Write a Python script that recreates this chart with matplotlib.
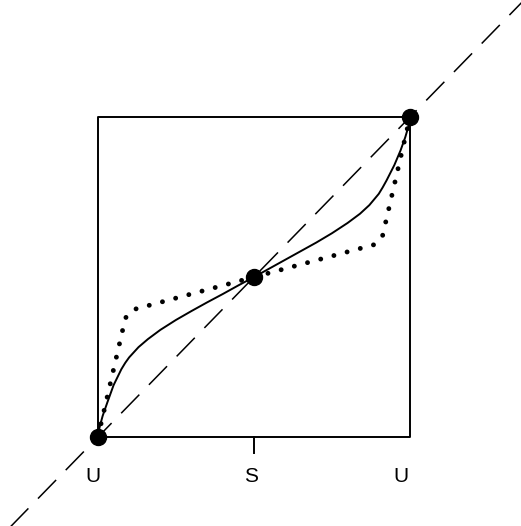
import matplotlib.pyplot as plt

# fixed points (U, S, U) on the diagonal
fixed_x = [0.0, 0.5, 1.0]
fixed_y = [0.0, 0.5, 1.0]

# diagonal y = x (dashed)
diag_x = [-0.35, 1.40]
diag_y = [-0.35, 1.40]

# smooth solid curve
solid_x = [0.0, 0.005, 0.015, 0.03, 0.05, 0.075, 0.0875, 0.10, 0.13, 0.16, 0.20, 0.25,
           0.30, 0.35, 0.40, 0.45, 0.50, 0.55, 0.60, 0.65, 0.70, 0.75, 0.80, 0.84,
           0.87, 0.90, 0.9125, 0.925, 0.95, 0.97, 0.985, 0.995, 1.0]
solid_y = [0.0, 0.03, 0.066, 0.108, 0.162, 0.212, 0.232, 0.249, 0.281, 0.306, 0.335, 0.366,
           0.394, 0.421, 0.447, 0.474, 0.50, 0.527, 0.554, 0.581, 0.608, 0.637, 0.669, 0.698,
           0.725, 0.76, 0.78, 0.802, 0.85, 0.896, 0.937, 0.97, 1.0]

# dotted piecewise curve
dotted_x = [0.0, 0.088, 0.112, 0.5, 0.888, 0.912, 1.0]
dotted_y = [0.0, 0.372, 0.398, 0.5, 0.602, 0.628, 1.0]

tick_labels = ['U', 'S', 'U']
label_x = [-0.015, 0.49, 0.97]

fig = plt.figure(figsize=(5.21, 5.26), dpi=100)
ax = fig.add_axes([0, 0, 1, 1])
ax.set_xlim(-0.314, 1.356)
ax.set_ylim(-0.278, 1.366)
ax.axis('off')

# box
ax.plot([0, 1, 1, 0, 0], [0, 0, 1, 1, 0], color='black', lw=1.4)
ax.plot([0.5, 0.5], [0, -0.05], color='black', lw=1.4)

ax.plot(diag_x, diag_y, color='black', lw=1.1, dashes=(17, 9))
ax.plot(solid_x, solid_y, color='black', lw=1.4)
ax.plot(dotted_x, dotted_y, color='black', lw=3.5, linestyle=(0, (0.01, 2.8)),
        dash_capstyle='round')
ax.plot(fixed_x, fixed_y, 'o', color='black', markersize=11.5, zorder=5)

for x, t in zip(label_x, tick_labels):
    ax.text(x, -0.124, t, ha='center', va='center', fontsize=15,
            family='Liberation Sans')

fig.savefig('out.png', dpi=100)
